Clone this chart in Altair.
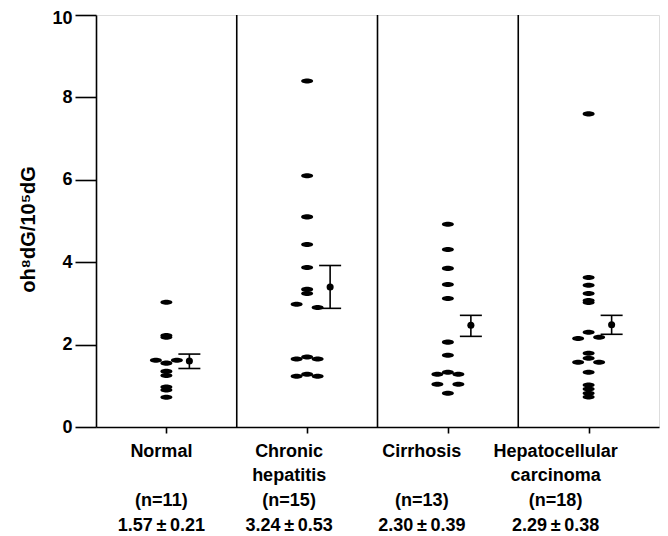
import altair as alt
import pandas as pd

# ---------------- data ----------------
categories = ["Normal", "Chronic hepatitis", "Cirrhosis", "Hepatocellular carcinoma"]
label_line1 = ["Normal", "Chronic", "Cirrhosis", "Hepatocellular"]
label_line2 = ["", "hepatitis", "", "carcinoma"]
n_labels = ["(n=11)", "(n=15)", "(n=13)", "(n=18)"]
mean_labels = ["1.57\u2009\u00b1\u20090.21", "3.24\u2009\u00b1\u20090.53",
               "2.30\u2009\u00b1\u20090.39", "2.29\u2009\u00b1\u20090.38"]

normal = [3.03, 2.22, 2.18, 1.62, 1.55, 1.62, 1.35, 1.25, 0.97, 0.90, 0.72]
normal_side = [0, 0, 0, -1, 0, 1, 0, 0, 0, 0, 0]
chronic = [8.40, 6.10, 5.10, 4.43, 3.87, 3.34, 3.24, 2.98, 2.90, 1.65, 1.70, 1.65, 1.23, 1.28, 1.23]
chronic_side = [0, 0, 0, 0, 0, 0, 0, -1, 1, -1, 0, 1, -1, 0, 1]
cirrhosis = [4.92, 4.31, 3.85, 3.46, 3.12, 2.06, 1.74, 1.28, 1.33, 1.28, 1.04, 1.04, 0.82]
cirrhosis_side = [0, 0, 0, 0, 0, 0, 0, -1, 0, 1, -1, 1, 0]
hcc = [7.60, 3.63, 3.44, 3.24, 3.07, 3.02, 2.30, 2.15, 2.18, 1.79, 1.67, 1.57, 1.57, 1.33,
       1.02, 0.92, 0.82, 0.73]
hcc_side = [0, 0, 0, 0, 0, 0, 0, -1, 1, 0, 0, -1, 1, 0, 0, 0, 0, 0]

# mean +/- SE bars as drawn
bar_mean = [1.60, 3.40, 2.47, 2.48]
bar_low = [1.42, 2.88, 2.20, 2.25]
bar_high = [1.77, 3.92, 2.71, 2.71]

y_ticks = [0, 2, 4, 6, 8, 10]

# ---------------- layout ----------------
W, H = 563, 412
BAND = W / 4.0
DOT_SPREAD = 10.5      # px between side-by-side dots
BAR_OFF = 23.0         # px from group centre to error bar
CAP_HALF = 11.0        # px half width of caps
label_shift = [-5, -18, -26, -33]   # px shift of the text block under each group
FONT = "Liberation Sans"
LW = 1.6

rows = []
for gi, (vals, sides) in enumerate(zip([normal, chronic, cirrhosis, hcc],
                                       [normal_side, chronic_side, cirrhosis_side, hcc_side])):
    for v, s in zip(vals, sides):
        rows.append({"group": categories[gi], "value": v,
                     "xpos": gi + 0.5 + s * DOT_SPREAD / BAND})
dots = pd.DataFrame(rows)

bars = pd.DataFrame({
    "group": categories,
    "mean": bar_mean, "low": bar_low, "high": bar_high,
    "xc": [i + 0.5 + BAR_OFF / BAND for i in range(4)],
})
bars["xl"] = bars["xc"] - CAP_HALF / BAND
bars["xr"] = bars["xc"] + CAP_HALF / BAND

labels = pd.DataFrame({
    "l1": label_line1, "l2": label_line2, "n": n_labels, "m": mean_labels,
    "xt": [i + 0.5 + label_shift[i] / BAND for i in range(4)],
})

bounds = pd.DataFrame({"b": [1, 2, 3]})

xscale = alt.Scale(domain=[0, 4], nice=False, zero=False)
yscale = alt.Scale(domain=[0, 10], nice=False, zero=True)

ellipse = "M -1 0 A 1 0.42 0 1 1 1 0 A 1 0.42 0 1 1 -1 0 Z"

base_dots = alt.Chart(dots).mark_point(
    shape=ellipse, filled=True, color="black", opacity=1, size=144
).encode(
    x=alt.X("xpos:Q", scale=xscale,
            axis=alt.Axis(values=[0.5, 1.5, 2.5, 3.5], labels=False, tickSize=6,
                          tickColor="black", tickWidth=LW, domainColor="black",
                          domainWidth=LW, grid=False, title=None)),
    y=alt.Y("value:Q", scale=yscale,
            axis=alt.Axis(values=y_ticks, tickSize=21, tickColor="black",
                          tickWidth=LW, domainColor="black", domainWidth=LW,
                          grid=False, labelFont=FONT, labelFontSize=18,
                          labelFontWeight="bold", labelColor="black", labelPadding=3,
                          labelOffset={"condition": {"test": "datum.value == 10", "value": 3},
                                       "value": 0},
                          title="oh\u2078dG/10\u2075dG", titleFont=FONT, titleFontSize=20,
                          titleFontWeight="bold", titleColor="black", titleAngle=270,
                          titleX=-68, titleY=214, titleAlign="center",
                          titleBaseline="middle")),
)

seps = alt.Chart(bounds).mark_rule(color="black", strokeWidth=LW).encode(
    x=alt.X("b:Q", scale=xscale)
)

vbar = alt.Chart(bars).mark_rule(color="black", strokeWidth=LW).encode(
    x=alt.X("xc:Q", scale=xscale), y=alt.Y("low:Q", scale=yscale), y2="high:Q"
)
cap_lo = alt.Chart(bars).mark_rule(color="black", strokeWidth=LW).encode(
    x=alt.X("xl:Q", scale=xscale), x2="xr:Q", y=alt.Y("low:Q", scale=yscale)
)
cap_hi = alt.Chart(bars).mark_rule(color="black", strokeWidth=LW).encode(
    x=alt.X("xl:Q", scale=xscale), x2="xr:Q", y=alt.Y("high:Q", scale=yscale)
)
mdot = alt.Chart(bars).mark_point(shape="circle", filled=True, color="black",
                                  opacity=1, size=50).encode(
    x=alt.X("xc:Q", scale=xscale), y=alt.Y("mean:Q", scale=yscale)
)

def text_layer(field, ypix):
    return alt.Chart(labels).mark_text(
        font=FONT, fontSize=18, fontWeight="bold", color="black",
        align="center", baseline="alphabetic"
    ).encode(x=alt.X("xt:Q", scale=xscale), y=alt.value(ypix), text=f"{field}:N")

chart = alt.layer(
    seps, base_dots, vbar, cap_lo, cap_hi, mdot,
    text_layer("l1", 442), text_layer("l2", 466),
    text_layer("n", 491), text_layer("m", 516),
).properties(
    width=W, height=H,
    autosize=alt.AutoSizeParams(type="none"),
    padding={"left": 88, "top": 7, "right": 1, "bottom": 107},
).configure_view(stroke="black", strokeWidth=LW).configure(background="white")

chart.save("out.html", embed_options={"renderer": "svg", "actions": False})
